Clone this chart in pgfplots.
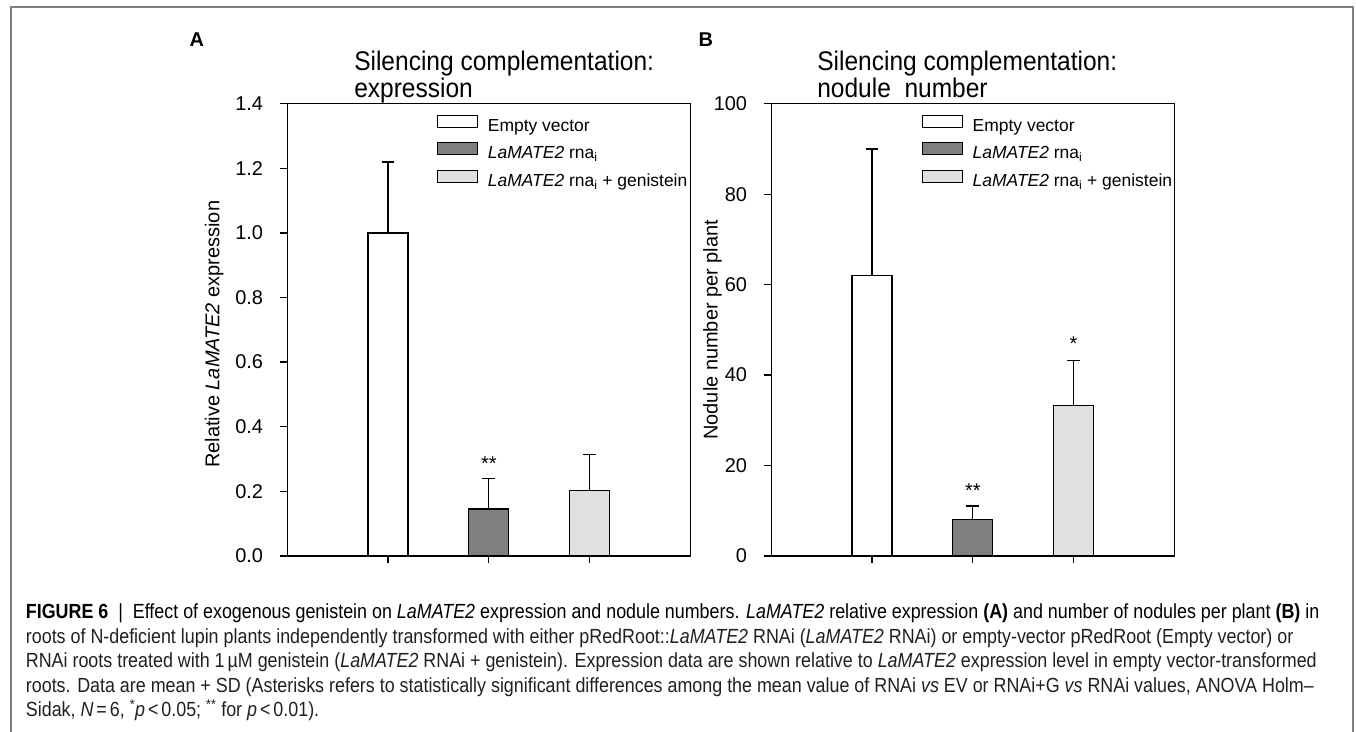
\documentclass[border=0pt]{standalone}
\usepackage{fontspec}
\setmainfont{Liberation Sans}
\usepackage{pgfplots}
\pgfplotsset{compat=1.18}
\usepackage{graphicx}
\definecolor{framegray}{HTML}{7F7F7F}
\definecolor{darkbar}{HTML}{7F7F7F}
\definecolor{lightbar}{HTML}{E0E0E0}
\definecolor{captext}{HTML}{231F20}

\newcommand\tickfont{\fontsize{20}{20}\selectfont}
\newcommand\titlefont{\fontsize{27}{26.5}\selectfont}
\newcommand\legfont{\fontsize{17.5}{18}\selectfont}
\newcommand\capfont{\fontsize{20.5}{24}\selectfont}

\pgfplotsset{
 panel/.style={
   scale only axis, width=404pt, height=453pt,
   xmin=0, xmax=4, ymin=0,
   xtick={1,2,3}, xticklabels={},
   tick align=outside, major tick length=7pt,
   xtick pos=bottom, ytick pos=left,
   axis line style={black, line width=1.3pt},
   every tick/.style={black, line width=1.3pt},
   tick label style={font=\tickfont},
   yticklabel style={anchor=east, inner sep=0pt, xshift=-17pt},
   /pgf/number format/assume math mode=true,
   ybar, bar width=40pt, bar shift=0pt,
   every axis plot/.append style={draw=black, line width=1.3pt},
   error bars/y dir=plus, error bars/y explicit,
   error bars/error bar style={black, line width=1.3pt},
   error bars/error mark options={black, line width=1.3pt, mark size=6.5pt, rotate=90},
   legend image code/.code={\draw[#1, line width=1.2pt] (0pt,0pt) rectangle (40pt,12pt);},
   legend cell align=left,
   legend style={draw=none, fill=none, anchor=north west, inner sep=0pt, outer sep=0pt,
     font=\legfont, row sep=6pt,
     nodes={text height=13pt, text depth=5pt, inner sep=0pt},
     /tikz/every odd column/.append style={column sep=10pt}},
   ylabel style={font=\tickfont, anchor=center},
   clip=false,
 }
}

\newsavebox\capbox
\sbox\capbox{\capfont\textbf{FIGURE 6}\ \ |\ \ Effect of exogenous genistein on \textit{LaMATE2} expression and nodule numbers. \textit{LaMATE2} relative expression \textbf{(A)} and number of nodules per plant \textbf{(B)} in}

\newcommand\titletext[2]{\scalebox{0.91}[1]{\parbox[t]{400pt}{\titlefont\raggedright #1\\#2}}}

\begin{document}
\pgfmathsetmacro\capscale{1296/\wd\capbox}
\begin{tikzpicture}[x=1pt,y=1pt]
\path[use as bounding box] (0,0) rectangle (1356,-733);
\draw[color=framegray, line width=1.8pt] (8,-745) -- (8,-7) -- (1353,-7) -- (1353,-745);

% panel letters and titles
\node[anchor=base west, inner sep=0pt, font=\fontsize{20}{20}\selectfont\bfseries] at (187,-47) {A};
\node[anchor=base west, inner sep=0pt, font=\fontsize{20}{20}\selectfont\bfseries] at (697,-47) {B};
\node[anchor=base west, inner sep=0pt] at (352,-71) {\titletext{Silencing complementation:}{expression}};
\node[anchor=base west, inner sep=0pt] at (816,-71) {\titletext{Silencing complementation:}{nodule\ \ number}};

% Panel A
\begin{axis}[panel, at={(285pt,-557pt)}, anchor=south west,
  ymax=1.4, ytick={0,0.2,0.4,0.6,0.8,1.0,1.2,1.4},
  yticklabel style={/pgf/number format/.cd, fixed, fixed zerofill, precision=1},
  ylabel={Relative \textit{LaMATE2} expression},
  ylabel style={at={(axis description cs:-0.181,0.49)}},
  legend style={at={(rel axis cs:0.371,0.976)}},
]
\addplot[fill=white] coordinates {(1,1.0) +- (0,0.22)};
\addplot[fill=darkbar] coordinates {(2,0.145) +- (0,0.095)};
\addplot[fill=lightbar] coordinates {(3,0.203) +- (0,0.112)};
\legend{Empty vector, \textit{LaMATE2} rna\textsubscript{i}, \textit{LaMATE2} rna\textsubscript{i} + genistein}
\node[anchor=base, inner sep=0pt, font=\fontsize{20}{20}\selectfont] at (axis cs:2,0.264) {**};
\end{axis}

% Panel B
\begin{axis}[panel, at={(770pt,-557pt)}, anchor=south west,
  ymax=100, ytick={0,20,40,60,80,100},
  ylabel={Nodule number per plant},
  ylabel style={at={(axis description cs:-0.146,0.5)}},
  legend style={at={(rel axis cs:0.373,0.976)}},
]
\addplot[fill=white] coordinates {(1,62) +- (0,28)};
\addplot[fill=darkbar] coordinates {(2,8) +- (0,3)};
\addplot[fill=lightbar] coordinates {(3,33.2) +- (0,10)};
\legend{Empty vector, \textit{LaMATE2} rna\textsubscript{i}, \textit{LaMATE2} rna\textsubscript{i} + genistein}
\node[anchor=base, inner sep=0pt, font=\fontsize{20}{20}\selectfont] at (axis cs:2,13) {**};
\node[anchor=base, inner sep=0pt, font=\fontsize{20}{20}\selectfont] at (axis cs:3,45.5) {*};
\end{axis}

% caption
\begin{scope}[every node/.style={anchor=base west, inner sep=0pt, text=captext}]
\node at (23,-620) {\scalebox{\capscale}[1]{\usebox\capbox}};
\node at (23,-644.5) {\scalebox{\capscale}[1]{\capfont roots of N-deficient lupin plants independently transformed with either pRedRoot::\textit{LaMATE2} RNAi (\textit{LaMATE2} RNAi) or empty-vector pRedRoot (Empty vector) or}};
\node at (23,-669) {\scalebox{\capscale}[1]{\capfont RNAi roots treated with 1\,µM genistein (\textit{LaMATE2} RNAi + genistein). Expression data are shown relative to \textit{LaMATE2} expression level in empty vector-transformed}};
\node at (23,-693.5) {\scalebox{\capscale}[1]{\capfont roots. Data are mean + SD (Asterisks refers to statistically significant differences among the mean value of RNAi \textit{vs} EV or RNAi+G \textit{vs} RNAi values, ANOVA Holm–}};
\node at (23,-718) {\scalebox{\capscale}[1]{\capfont Sidak, \textit{N}\,=\,6, \textsuperscript{*}\textit{p}\,<\,0.05; \textsuperscript{**} for \textit{p}\,<\,0.01).}};
\end{scope}
\end{tikzpicture}
\end{document}
